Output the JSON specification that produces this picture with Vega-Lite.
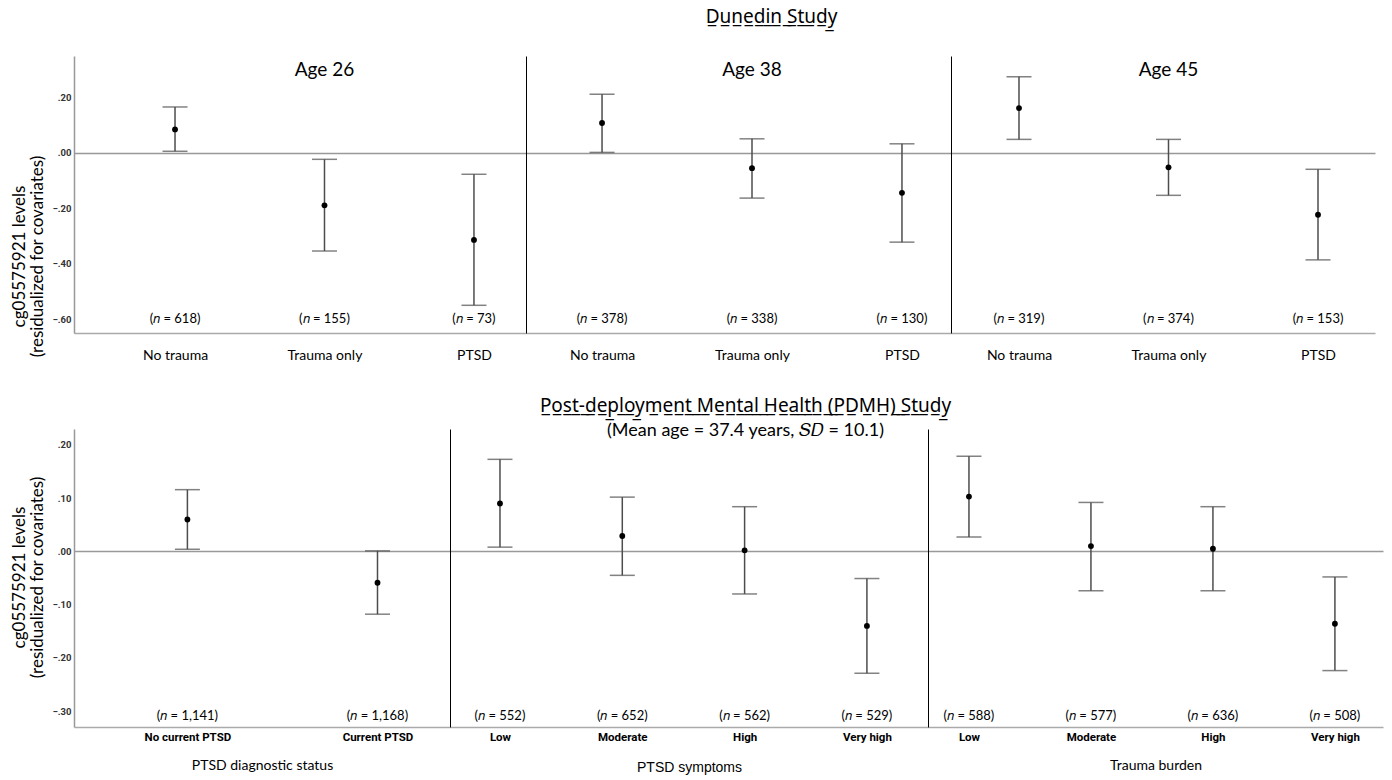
{
  "$schema": "https://vega.github.io/schema/vega-lite/v6.json",
  "padding": {"left": 10, "top": 8, "right": 5, "bottom": 2},
  "background": "white",
  "data": {"values": [
    {"section": "Age 26", "group": "No trauma", "mean": 0.085, "lower": 0.006, "upper": 0.166, "n": "618"},
    {"section": "Age 26", "group": "Trauma only", "mean": -0.189, "lower": -0.354, "upper": -0.023, "n": "155"},
    {"section": "Age 26", "group": "PTSD", "mean": -0.314, "lower": -0.55, "upper": -0.077, "n": "73"},
    {"section": "Age 38", "group": "No trauma", "mean": 0.108, "lower": 0.002, "upper": 0.212, "n": "378"},
    {"section": "Age 38", "group": "Trauma only", "mean": -0.055, "lower": -0.163, "upper": 0.051, "n": "338"},
    {"section": "Age 38", "group": "PTSD", "mean": -0.144, "lower": -0.322, "upper": 0.033, "n": "130"},
    {"section": "Age 45", "group": "No trauma", "mean": 0.162, "lower": 0.049, "upper": 0.275, "n": "319"},
    {"section": "Age 45", "group": "Trauma only", "mean": -0.052, "lower": -0.153, "upper": 0.049, "n": "374"},
    {"section": "Age 45", "group": "PTSD", "mean": -0.223, "lower": -0.386, "upper": -0.059, "n": "153"},
    {"section": "PTSD diagnostic status", "group": "No current PTSD", "mean": 0.06, "lower": 0.004, "upper": 0.116, "n": "1,141"},
    {"section": "PTSD diagnostic status", "group": "Current PTSD", "mean": -0.059, "lower": -0.118, "upper": 0.001, "n": "1,168"},
    {"section": "PTSD symptoms", "group": "Low", "mean": 0.09, "lower": 0.008, "upper": 0.173, "n": "552"},
    {"section": "PTSD symptoms", "group": "Moderate", "mean": 0.029, "lower": -0.045, "upper": 0.102, "n": "652"},
    {"section": "PTSD symptoms", "group": "High", "mean": 0.002, "lower": -0.08, "upper": 0.084, "n": "562"},
    {"section": "PTSD symptoms", "group": "Very high", "mean": -0.14, "lower": -0.229, "upper": -0.051, "n": "529"},
    {"section": "Trauma burden", "group": "Low", "mean": 0.103, "lower": 0.027, "upper": 0.179, "n": "588"},
    {"section": "Trauma burden", "group": "Moderate", "mean": 0.01, "lower": -0.074, "upper": 0.092, "n": "577"},
    {"section": "Trauma burden", "group": "High", "mean": 0.005, "lower": -0.074, "upper": 0.084, "n": "636"},
    {"section": "Trauma burden", "group": "Very high", "mean": -0.136, "lower": -0.224, "upper": -0.048, "n": "508"}
  ]},
  "config": {"view": {"stroke": null}, "font": "Lato", "axis": {"grid": false, "ticks": false}, "axisY": {"titleFont": "Lato", "titleFontSize": 17, "titleLineHeight": 18, "titleFontWeight": "normal", "titleColor": "#000"}},
  "spacing": 35,
  "vconcat": [
    {
      "title": {"text": "D\u0332u\u0332n\u0332e\u0332d\u0332i\u0332n\u0332 \u0332S\u0332t\u0332u\u0332d\u0332y\u0332", "font": "Noto Sans", "fontSize": 19, "fontWeight": "normal", "color": "#000", "anchor": "middle", "offset": 29, "dx": 79},
      "spacing": 0,
      "bounds": "flush",
      "hconcat": [
        {
          "width": 452, "height": 277,
          "transform": [{"filter": "datum.section === 'Age 26'"}],
          "encoding": {"x": {"field": "group", "type": "nominal", "scale": {"type": "point", "domain": ["No trauma", "Trauma only", "PTSD"], "padding": 0.512, "align": 0.66}, "axis": {"title": null, "labelAngle": 0, "labelFont": "Lato", "labelFontSize": 14, "labelColor": "#000", "labelPadding": 15, "domainColor": "#aaa", "domainWidth": 1.5, "ticks": false}}},
          "layer": [
            {"mark": {"type": "rule", "color": "#4d4d4d", "strokeWidth": 1.5}, "encoding": {"y": {"field": "lower", "type": "quantitative", "scale": {"domain": [-0.65, 0.35], "nice": false, "zero": false}, "axis": {"title": ["cg05575921 levels", "(residualized for covariates)"], "values": [-0.6, -0.4, -0.2, 0, 0.2], "labelExpr": "replace(format(datum.value, '.2f'), '0.', '.')", "labelFont": "Roboto", "labelFontSize": 9.5, "labelFontWeight": "bold", "labelColor": "#333", "labelPadding": 3, "ticks": false, "grid": true, "gridColor": "#999", "gridWidth": 1.5, "gridOpacity": {"condition": {"test": "datum.value === 0", "value": 1}, "value": 0}, "domainColor": "#999", "domainWidth": 1.5, "titleFont": "Lato", "titleFontSize": 17, "titleLineHeight": 18, "titleFontWeight": "normal", "titleColor": "#000", "titlePadding": 10, "titleY": 200, "minExtent": 18, "maxExtent": 18}}, "y2": {"field": "upper"}}},
            {"mark": {"type": "tick", "color": "#4d4d4d", "thickness": 1.5, "size": 25, "orient": "horizontal"}, "encoding": {"y": {"field": "lower", "type": "quantitative", "scale": {"domain": [-0.65, 0.35], "nice": false, "zero": false}, "axis": {"title": ["cg05575921 levels", "(residualized for covariates)"], "values": [-0.6, -0.4, -0.2, 0, 0.2], "labelExpr": "replace(format(datum.value, '.2f'), '0.', '.')", "labelFont": "Roboto", "labelFontSize": 9.5, "labelFontWeight": "bold", "labelColor": "#333", "labelPadding": 3, "ticks": false, "grid": true, "gridColor": "#999", "gridWidth": 1.5, "gridOpacity": {"condition": {"test": "datum.value === 0", "value": 1}, "value": 0}, "domainColor": "#999", "domainWidth": 1.5, "titleFont": "Lato", "titleFontSize": 17, "titleLineHeight": 18, "titleFontWeight": "normal", "titleColor": "#000", "titlePadding": 10, "titleY": 200, "minExtent": 18, "maxExtent": 18}}}},
            {"mark": {"type": "tick", "color": "#4d4d4d", "thickness": 1.5, "size": 25, "orient": "horizontal"}, "encoding": {"y": {"field": "upper", "type": "quantitative", "scale": {"domain": [-0.65, 0.35], "nice": false, "zero": false}, "axis": {"title": ["cg05575921 levels", "(residualized for covariates)"], "values": [-0.6, -0.4, -0.2, 0, 0.2], "labelExpr": "replace(format(datum.value, '.2f'), '0.', '.')", "labelFont": "Roboto", "labelFontSize": 9.5, "labelFontWeight": "bold", "labelColor": "#333", "labelPadding": 3, "ticks": false, "grid": true, "gridColor": "#999", "gridWidth": 1.5, "gridOpacity": {"condition": {"test": "datum.value === 0", "value": 1}, "value": 0}, "domainColor": "#999", "domainWidth": 1.5, "titleFont": "Lato", "titleFontSize": 17, "titleLineHeight": 18, "titleFontWeight": "normal", "titleColor": "#000", "titlePadding": 10, "titleY": 200, "minExtent": 18, "maxExtent": 18}}}},
            {"mark": {"type": "circle", "size": 34, "color": "#000", "opacity": 1}, "encoding": {"y": {"field": "mean", "type": "quantitative", "scale": {"domain": [-0.65, 0.35], "nice": false, "zero": false}, "axis": {"title": ["cg05575921 levels", "(residualized for covariates)"], "values": [-0.6, -0.4, -0.2, 0, 0.2], "labelExpr": "replace(format(datum.value, '.2f'), '0.', '.')", "labelFont": "Roboto", "labelFontSize": 9.5, "labelFontWeight": "bold", "labelColor": "#333", "labelPadding": 3, "ticks": false, "grid": true, "gridColor": "#999", "gridWidth": 1.5, "gridOpacity": {"condition": {"test": "datum.value === 0", "value": 1}, "value": 0}, "domainColor": "#999", "domainWidth": 1.5, "titleFont": "Lato", "titleFontSize": 17, "titleLineHeight": 18, "titleFontWeight": "normal", "titleColor": "#000", "titlePadding": 10, "titleY": 200, "minExtent": 18, "maxExtent": 18}}}},
            {"transform": [{"calculate": "'(\ud835\udc5b = ' + datum.n + ')'", "as": "lab"}], "mark": {"type": "text", "font": "Lato", "fontSize": 13, "color": "#000"}, "encoding": {"y": {"datum": -0.6, "type": "quantitative", "scale": {"domain": [-0.65, 0.35], "nice": false, "zero": false}, "axis": {"title": ["cg05575921 levels", "(residualized for covariates)"], "values": [-0.6, -0.4, -0.2, 0, 0.2], "labelExpr": "replace(format(datum.value, '.2f'), '0.', '.')", "labelFont": "Roboto", "labelFontSize": 9.5, "labelFontWeight": "bold", "labelColor": "#333", "labelPadding": 3, "ticks": false, "grid": true, "gridColor": "#999", "gridWidth": 1.5, "gridOpacity": {"condition": {"test": "datum.value === 0", "value": 1}, "value": 0}, "domainColor": "#999", "domainWidth": 1.5, "titleFont": "Lato", "titleFontSize": 17, "titleLineHeight": 18, "titleFontWeight": "normal", "titleColor": "#000", "titlePadding": 10, "titleY": 200, "minExtent": 18, "maxExtent": 18}}, "text": {"field": "lab"}}},
            {"transform": [{"filter": "datum.group === 'Trauma only'"}], "mark": {"type": "text", "font": "Lato", "fontSize": 19, "color": "#000"}, "encoding": {"y": {"datum": 0.3, "type": "quantitative", "scale": {"domain": [-0.65, 0.35], "nice": false, "zero": false}, "axis": {"title": ["cg05575921 levels", "(residualized for covariates)"], "values": [-0.6, -0.4, -0.2, 0, 0.2], "labelExpr": "replace(format(datum.value, '.2f'), '0.', '.')", "labelFont": "Roboto", "labelFontSize": 9.5, "labelFontWeight": "bold", "labelColor": "#333", "labelPadding": 3, "ticks": false, "grid": true, "gridColor": "#999", "gridWidth": 1.5, "gridOpacity": {"condition": {"test": "datum.value === 0", "value": 1}, "value": 0}, "domainColor": "#999", "domainWidth": 1.5, "titleFont": "Lato", "titleFontSize": 17, "titleLineHeight": 18, "titleFontWeight": "normal", "titleColor": "#000", "titlePadding": 10, "titleY": 200, "minExtent": 18, "maxExtent": 18}}, "text": {"field": "section"}}}
          ]
        },
        {
          "width": 425, "height": 277,
          "transform": [{"filter": "datum.section === 'Age 38'"}],
          "encoding": {"x": {"field": "group", "type": "nominal", "scale": {"type": "point", "domain": ["No trauma", "Trauma only", "PTSD"], "padding": 0.417, "align": 0.608}, "axis": {"title": null, "labelAngle": 0, "labelFont": "Lato", "labelFontSize": 14, "labelColor": "#000", "labelPadding": 15, "domainColor": "#aaa", "domainWidth": 1.5, "ticks": false}}},
          "layer": [
            {"mark": {"type": "rule", "color": "#4d4d4d", "strokeWidth": 1.5}, "encoding": {"y": {"field": "lower", "type": "quantitative", "scale": {"domain": [-0.65, 0.35], "nice": false, "zero": false}, "axis": {"title": null, "labels": false, "ticks": false, "grid": true, "values": [0], "gridColor": "#999", "gridWidth": 1.5, "domainColor": "#000", "domainWidth": 1, "minExtent": 0, "maxExtent": 0}}, "y2": {"field": "upper"}}},
            {"mark": {"type": "tick", "color": "#4d4d4d", "thickness": 1.5, "size": 25, "orient": "horizontal"}, "encoding": {"y": {"field": "lower", "type": "quantitative", "scale": {"domain": [-0.65, 0.35], "nice": false, "zero": false}, "axis": {"title": null, "labels": false, "ticks": false, "grid": true, "values": [0], "gridColor": "#999", "gridWidth": 1.5, "domainColor": "#000", "domainWidth": 1, "minExtent": 0, "maxExtent": 0}}}},
            {"mark": {"type": "tick", "color": "#4d4d4d", "thickness": 1.5, "size": 25, "orient": "horizontal"}, "encoding": {"y": {"field": "upper", "type": "quantitative", "scale": {"domain": [-0.65, 0.35], "nice": false, "zero": false}, "axis": {"title": null, "labels": false, "ticks": false, "grid": true, "values": [0], "gridColor": "#999", "gridWidth": 1.5, "domainColor": "#000", "domainWidth": 1, "minExtent": 0, "maxExtent": 0}}}},
            {"mark": {"type": "circle", "size": 34, "color": "#000", "opacity": 1}, "encoding": {"y": {"field": "mean", "type": "quantitative", "scale": {"domain": [-0.65, 0.35], "nice": false, "zero": false}, "axis": {"title": null, "labels": false, "ticks": false, "grid": true, "values": [0], "gridColor": "#999", "gridWidth": 1.5, "domainColor": "#000", "domainWidth": 1, "minExtent": 0, "maxExtent": 0}}}},
            {"transform": [{"calculate": "'(\ud835\udc5b = ' + datum.n + ')'", "as": "lab"}], "mark": {"type": "text", "font": "Lato", "fontSize": 13, "color": "#000"}, "encoding": {"y": {"datum": -0.6, "type": "quantitative", "scale": {"domain": [-0.65, 0.35], "nice": false, "zero": false}, "axis": {"title": null, "labels": false, "ticks": false, "grid": true, "values": [0], "gridColor": "#999", "gridWidth": 1.5, "domainColor": "#000", "domainWidth": 1, "minExtent": 0, "maxExtent": 0}}, "text": {"field": "lab"}}},
            {"transform": [{"filter": "datum.group === 'Trauma only'"}], "mark": {"type": "text", "font": "Lato", "fontSize": 19, "color": "#000"}, "encoding": {"y": {"datum": 0.3, "type": "quantitative", "scale": {"domain": [-0.65, 0.35], "nice": false, "zero": false}, "axis": {"title": null, "labels": false, "ticks": false, "grid": true, "values": [0], "gridColor": "#999", "gridWidth": 1.5, "domainColor": "#000", "domainWidth": 1, "minExtent": 0, "maxExtent": 0}}, "text": {"field": "section"}}}
          ]
        },
        {
          "width": 424, "height": 277,
          "transform": [{"filter": "datum.section === 'Age 45'"}],
          "encoding": {"x": {"field": "group", "type": "nominal", "scale": {"type": "point", "domain": ["No trauma", "Trauma only", "PTSD"], "padding": 0.418, "align": 0.544}, "axis": {"title": null, "labelAngle": 0, "labelFont": "Lato", "labelFontSize": 14, "labelColor": "#000", "labelPadding": 15, "domainColor": "#aaa", "domainWidth": 1.5, "ticks": false}}},
          "layer": [
            {"mark": {"type": "rule", "color": "#4d4d4d", "strokeWidth": 1.5}, "encoding": {"y": {"field": "lower", "type": "quantitative", "scale": {"domain": [-0.65, 0.35], "nice": false, "zero": false}, "axis": {"title": null, "labels": false, "ticks": false, "grid": true, "values": [0], "gridColor": "#999", "gridWidth": 1.5, "domainColor": "#000", "domainWidth": 1, "minExtent": 0, "maxExtent": 0}}, "y2": {"field": "upper"}}},
            {"mark": {"type": "tick", "color": "#4d4d4d", "thickness": 1.5, "size": 25, "orient": "horizontal"}, "encoding": {"y": {"field": "lower", "type": "quantitative", "scale": {"domain": [-0.65, 0.35], "nice": false, "zero": false}, "axis": {"title": null, "labels": false, "ticks": false, "grid": true, "values": [0], "gridColor": "#999", "gridWidth": 1.5, "domainColor": "#000", "domainWidth": 1, "minExtent": 0, "maxExtent": 0}}}},
            {"mark": {"type": "tick", "color": "#4d4d4d", "thickness": 1.5, "size": 25, "orient": "horizontal"}, "encoding": {"y": {"field": "upper", "type": "quantitative", "scale": {"domain": [-0.65, 0.35], "nice": false, "zero": false}, "axis": {"title": null, "labels": false, "ticks": false, "grid": true, "values": [0], "gridColor": "#999", "gridWidth": 1.5, "domainColor": "#000", "domainWidth": 1, "minExtent": 0, "maxExtent": 0}}}},
            {"mark": {"type": "circle", "size": 34, "color": "#000", "opacity": 1}, "encoding": {"y": {"field": "mean", "type": "quantitative", "scale": {"domain": [-0.65, 0.35], "nice": false, "zero": false}, "axis": {"title": null, "labels": false, "ticks": false, "grid": true, "values": [0], "gridColor": "#999", "gridWidth": 1.5, "domainColor": "#000", "domainWidth": 1, "minExtent": 0, "maxExtent": 0}}}},
            {"transform": [{"calculate": "'(\ud835\udc5b = ' + datum.n + ')'", "as": "lab"}], "mark": {"type": "text", "font": "Lato", "fontSize": 13, "color": "#000"}, "encoding": {"y": {"datum": -0.6, "type": "quantitative", "scale": {"domain": [-0.65, 0.35], "nice": false, "zero": false}, "axis": {"title": null, "labels": false, "ticks": false, "grid": true, "values": [0], "gridColor": "#999", "gridWidth": 1.5, "domainColor": "#000", "domainWidth": 1, "minExtent": 0, "maxExtent": 0}}, "text": {"field": "lab"}}},
            {"transform": [{"filter": "datum.group === 'Trauma only'"}], "mark": {"type": "text", "font": "Lato", "fontSize": 19, "color": "#000"}, "encoding": {"y": {"datum": 0.3, "type": "quantitative", "scale": {"domain": [-0.65, 0.35], "nice": false, "zero": false}, "axis": {"title": null, "labels": false, "ticks": false, "grid": true, "values": [0], "gridColor": "#999", "gridWidth": 1.5, "domainColor": "#000", "domainWidth": 1, "minExtent": 0, "maxExtent": 0}}, "text": {"field": "section"}}}
          ]
        }
      ]
    },
    {
      "title": {"text": "P\u0332o\u0332s\u0332t\u0332-\u0332d\u0332e\u0332p\u0332l\u0332o\u0332y\u0332m\u0332e\u0332n\u0332t\u0332 \u0332M\u0332e\u0332n\u0332t\u0332a\u0332l\u0332 \u0332H\u0332e\u0332a\u0332l\u0332t\u0332h\u0332 \u0332(\u0332P\u0332D\u0332M\u0332H\u0332)\u0332 \u0332S\u0332t\u0332u\u0332d\u0332y\u0332", "subtitle": "(Mean age = 37.4 years, \ud835\udc46\ud835\udc37 = 10.1)", "font": "Noto Sans", "fontSize": 19, "fontWeight": "normal", "color": "#000", "subtitleFont": "Lato", "subtitleFontSize": 18, "subtitleColor": "#000", "subtitlePadding": 6, "anchor": "middle", "offset": -11, "dx": 49},
      "spacing": 0,
      "bounds": "flush",
      "hconcat": [
        {
          "width": 376, "height": 298,
          "transform": [{"filter": "datum.section === 'PTSD diagnostic status'"}],
          "encoding": {"x": {"field": "group", "type": "nominal", "scale": {"type": "point", "domain": ["No current PTSD", "Current PTSD"], "padding": 0.489, "align": 0.61}, "axis": {"title": "PTSD diagnostic status", "titleFont": "Lato", "titleFontSize": 14, "titleFontWeight": "normal", "titleColor": "#000", "titlePadding": 16, "labelAngle": 0, "labelFont": "Roboto", "labelFontSize": 11.5, "labelFontWeight": "bold", "labelColor": "#000", "labelPadding": 4, "domainColor": "#aaa", "domainWidth": 1.5, "ticks": false}}},
          "layer": [
            {"mark": {"type": "rule", "color": "#4d4d4d", "strokeWidth": 1.5}, "encoding": {"y": {"field": "lower", "type": "quantitative", "scale": {"domain": [-0.33, 0.23], "nice": false, "zero": false}, "axis": {"title": ["cg05575921 levels", "(residualized for covariates)"], "values": [-0.3, -0.2, -0.1, 0, 0.1, 0.2], "labelExpr": "replace(format(datum.value, '.2f'), '0.', '.')", "labelFont": "Roboto", "labelFontSize": 9.5, "labelFontWeight": "bold", "labelColor": "#333", "labelPadding": 3, "ticks": false, "grid": true, "gridColor": "#999", "gridWidth": 1.5, "gridOpacity": {"condition": {"test": "datum.value === 0", "value": 1}, "value": 0}, "domainColor": "#999", "domainWidth": 1.5, "titleFont": "Lato", "titleFontSize": 17, "titleLineHeight": 18, "titleFontWeight": "normal", "titleColor": "#000", "titlePadding": 10, "titleY": 148, "minExtent": 18, "maxExtent": 18}}, "y2": {"field": "upper"}}},
            {"mark": {"type": "tick", "color": "#4d4d4d", "thickness": 1.5, "size": 25, "orient": "horizontal"}, "encoding": {"y": {"field": "lower", "type": "quantitative", "scale": {"domain": [-0.33, 0.23], "nice": false, "zero": false}, "axis": {"title": ["cg05575921 levels", "(residualized for covariates)"], "values": [-0.3, -0.2, -0.1, 0, 0.1, 0.2], "labelExpr": "replace(format(datum.value, '.2f'), '0.', '.')", "labelFont": "Roboto", "labelFontSize": 9.5, "labelFontWeight": "bold", "labelColor": "#333", "labelPadding": 3, "ticks": false, "grid": true, "gridColor": "#999", "gridWidth": 1.5, "gridOpacity": {"condition": {"test": "datum.value === 0", "value": 1}, "value": 0}, "domainColor": "#999", "domainWidth": 1.5, "titleFont": "Lato", "titleFontSize": 17, "titleLineHeight": 18, "titleFontWeight": "normal", "titleColor": "#000", "titlePadding": 10, "titleY": 148, "minExtent": 18, "maxExtent": 18}}}},
            {"mark": {"type": "tick", "color": "#4d4d4d", "thickness": 1.5, "size": 25, "orient": "horizontal"}, "encoding": {"y": {"field": "upper", "type": "quantitative", "scale": {"domain": [-0.33, 0.23], "nice": false, "zero": false}, "axis": {"title": ["cg05575921 levels", "(residualized for covariates)"], "values": [-0.3, -0.2, -0.1, 0, 0.1, 0.2], "labelExpr": "replace(format(datum.value, '.2f'), '0.', '.')", "labelFont": "Roboto", "labelFontSize": 9.5, "labelFontWeight": "bold", "labelColor": "#333", "labelPadding": 3, "ticks": false, "grid": true, "gridColor": "#999", "gridWidth": 1.5, "gridOpacity": {"condition": {"test": "datum.value === 0", "value": 1}, "value": 0}, "domainColor": "#999", "domainWidth": 1.5, "titleFont": "Lato", "titleFontSize": 17, "titleLineHeight": 18, "titleFontWeight": "normal", "titleColor": "#000", "titlePadding": 10, "titleY": 148, "minExtent": 18, "maxExtent": 18}}}},
            {"mark": {"type": "circle", "size": 34, "color": "#000", "opacity": 1}, "encoding": {"y": {"field": "mean", "type": "quantitative", "scale": {"domain": [-0.33, 0.23], "nice": false, "zero": false}, "axis": {"title": ["cg05575921 levels", "(residualized for covariates)"], "values": [-0.3, -0.2, -0.1, 0, 0.1, 0.2], "labelExpr": "replace(format(datum.value, '.2f'), '0.', '.')", "labelFont": "Roboto", "labelFontSize": 9.5, "labelFontWeight": "bold", "labelColor": "#333", "labelPadding": 3, "ticks": false, "grid": true, "gridColor": "#999", "gridWidth": 1.5, "gridOpacity": {"condition": {"test": "datum.value === 0", "value": 1}, "value": 0}, "domainColor": "#999", "domainWidth": 1.5, "titleFont": "Lato", "titleFontSize": 17, "titleLineHeight": 18, "titleFontWeight": "normal", "titleColor": "#000", "titlePadding": 10, "titleY": 148, "minExtent": 18, "maxExtent": 18}}}},
            {"transform": [{"calculate": "'(\ud835\udc5b = ' + datum.n + ')'", "as": "lab"}], "mark": {"type": "text", "font": "Lato", "fontSize": 13, "color": "#000"}, "encoding": {"y": {"datum": -0.31, "type": "quantitative", "scale": {"domain": [-0.33, 0.23], "nice": false, "zero": false}, "axis": {"title": ["cg05575921 levels", "(residualized for covariates)"], "values": [-0.3, -0.2, -0.1, 0, 0.1, 0.2], "labelExpr": "replace(format(datum.value, '.2f'), '0.', '.')", "labelFont": "Roboto", "labelFontSize": 9.5, "labelFontWeight": "bold", "labelColor": "#333", "labelPadding": 3, "ticks": false, "grid": true, "gridColor": "#999", "gridWidth": 1.5, "gridOpacity": {"condition": {"test": "datum.value === 0", "value": 1}, "value": 0}, "domainColor": "#999", "domainWidth": 1.5, "titleFont": "Lato", "titleFontSize": 17, "titleLineHeight": 18, "titleFontWeight": "normal", "titleColor": "#000", "titlePadding": 10, "titleY": 148, "minExtent": 18, "maxExtent": 18}}, "text": {"field": "lab"}}}
          ]
        },
        {
          "width": 478, "height": 298,
          "transform": [{"filter": "datum.section === 'PTSD symptoms'"}],
          "encoding": {"x": {"field": "group", "type": "nominal", "scale": {"type": "point", "domain": ["Low", "Moderate", "High", "Very high"], "padding": 0.454, "align": 0.45}, "axis": {"title": "PTSD symptoms", "titleFont": "Liberation Sans", "titleFontSize": 14, "titleFontWeight": "normal", "titleColor": "#000", "titlePadding": 18, "labelAngle": 0, "labelFont": "Roboto", "labelFontSize": 11.5, "labelFontWeight": "bold", "labelColor": "#000", "labelPadding": 4, "domainColor": "#aaa", "domainWidth": 1.5, "ticks": false}}},
          "layer": [
            {"mark": {"type": "rule", "color": "#4d4d4d", "strokeWidth": 1.5}, "encoding": {"y": {"field": "lower", "type": "quantitative", "scale": {"domain": [-0.33, 0.23], "nice": false, "zero": false}, "axis": {"title": null, "labels": false, "ticks": false, "grid": true, "values": [0], "gridColor": "#999", "gridWidth": 1.5, "domainColor": "#000", "domainWidth": 1, "minExtent": 0, "maxExtent": 0}}, "y2": {"field": "upper"}}},
            {"mark": {"type": "tick", "color": "#4d4d4d", "thickness": 1.5, "size": 25, "orient": "horizontal"}, "encoding": {"y": {"field": "lower", "type": "quantitative", "scale": {"domain": [-0.33, 0.23], "nice": false, "zero": false}, "axis": {"title": null, "labels": false, "ticks": false, "grid": true, "values": [0], "gridColor": "#999", "gridWidth": 1.5, "domainColor": "#000", "domainWidth": 1, "minExtent": 0, "maxExtent": 0}}}},
            {"mark": {"type": "tick", "color": "#4d4d4d", "thickness": 1.5, "size": 25, "orient": "horizontal"}, "encoding": {"y": {"field": "upper", "type": "quantitative", "scale": {"domain": [-0.33, 0.23], "nice": false, "zero": false}, "axis": {"title": null, "labels": false, "ticks": false, "grid": true, "values": [0], "gridColor": "#999", "gridWidth": 1.5, "domainColor": "#000", "domainWidth": 1, "minExtent": 0, "maxExtent": 0}}}},
            {"mark": {"type": "circle", "size": 34, "color": "#000", "opacity": 1}, "encoding": {"y": {"field": "mean", "type": "quantitative", "scale": {"domain": [-0.33, 0.23], "nice": false, "zero": false}, "axis": {"title": null, "labels": false, "ticks": false, "grid": true, "values": [0], "gridColor": "#999", "gridWidth": 1.5, "domainColor": "#000", "domainWidth": 1, "minExtent": 0, "maxExtent": 0}}}},
            {"transform": [{"calculate": "'(\ud835\udc5b = ' + datum.n + ')'", "as": "lab"}], "mark": {"type": "text", "font": "Lato", "fontSize": 13, "color": "#000"}, "encoding": {"y": {"datum": -0.31, "type": "quantitative", "scale": {"domain": [-0.33, 0.23], "nice": false, "zero": false}, "axis": {"title": null, "labels": false, "ticks": false, "grid": true, "values": [0], "gridColor": "#999", "gridWidth": 1.5, "domainColor": "#000", "domainWidth": 1, "minExtent": 0, "maxExtent": 0}}, "text": {"field": "lab"}}}
          ]
        },
        {
          "width": 455, "height": 298,
          "transform": [{"filter": "datum.section === 'Trauma burden'"}],
          "encoding": {"x": {"field": "group", "type": "nominal", "scale": {"type": "point", "domain": ["Low", "Moderate", "High", "Very high"], "padding": 0.365, "align": 0.46}, "axis": {"title": "Trauma burden", "titleFont": "Lato", "titleFontSize": 14, "titleFontWeight": "normal", "titleColor": "#000", "titlePadding": 16, "labelAngle": 0, "labelFont": "Roboto", "labelFontSize": 11.5, "labelFontWeight": "bold", "labelColor": "#000", "labelPadding": 4, "domainColor": "#aaa", "domainWidth": 1.5, "ticks": false}}},
          "layer": [
            {"mark": {"type": "rule", "color": "#4d4d4d", "strokeWidth": 1.5}, "encoding": {"y": {"field": "lower", "type": "quantitative", "scale": {"domain": [-0.33, 0.23], "nice": false, "zero": false}, "axis": {"title": null, "labels": false, "ticks": false, "grid": true, "values": [0], "gridColor": "#999", "gridWidth": 1.5, "domainColor": "#000", "domainWidth": 1, "minExtent": 0, "maxExtent": 0}}, "y2": {"field": "upper"}}},
            {"mark": {"type": "tick", "color": "#4d4d4d", "thickness": 1.5, "size": 25, "orient": "horizontal"}, "encoding": {"y": {"field": "lower", "type": "quantitative", "scale": {"domain": [-0.33, 0.23], "nice": false, "zero": false}, "axis": {"title": null, "labels": false, "ticks": false, "grid": true, "values": [0], "gridColor": "#999", "gridWidth": 1.5, "domainColor": "#000", "domainWidth": 1, "minExtent": 0, "maxExtent": 0}}}},
            {"mark": {"type": "tick", "color": "#4d4d4d", "thickness": 1.5, "size": 25, "orient": "horizontal"}, "encoding": {"y": {"field": "upper", "type": "quantitative", "scale": {"domain": [-0.33, 0.23], "nice": false, "zero": false}, "axis": {"title": null, "labels": false, "ticks": false, "grid": true, "values": [0], "gridColor": "#999", "gridWidth": 1.5, "domainColor": "#000", "domainWidth": 1, "minExtent": 0, "maxExtent": 0}}}},
            {"mark": {"type": "circle", "size": 34, "color": "#000", "opacity": 1}, "encoding": {"y": {"field": "mean", "type": "quantitative", "scale": {"domain": [-0.33, 0.23], "nice": false, "zero": false}, "axis": {"title": null, "labels": false, "ticks": false, "grid": true, "values": [0], "gridColor": "#999", "gridWidth": 1.5, "domainColor": "#000", "domainWidth": 1, "minExtent": 0, "maxExtent": 0}}}},
            {"transform": [{"calculate": "'(\ud835\udc5b = ' + datum.n + ')'", "as": "lab"}], "mark": {"type": "text", "font": "Lato", "fontSize": 13, "color": "#000"}, "encoding": {"y": {"datum": -0.31, "type": "quantitative", "scale": {"domain": [-0.33, 0.23], "nice": false, "zero": false}, "axis": {"title": null, "labels": false, "ticks": false, "grid": true, "values": [0], "gridColor": "#999", "gridWidth": 1.5, "domainColor": "#000", "domainWidth": 1, "minExtent": 0, "maxExtent": 0}}, "text": {"field": "lab"}}}
          ]
        }
      ]
    }
  ]
}
